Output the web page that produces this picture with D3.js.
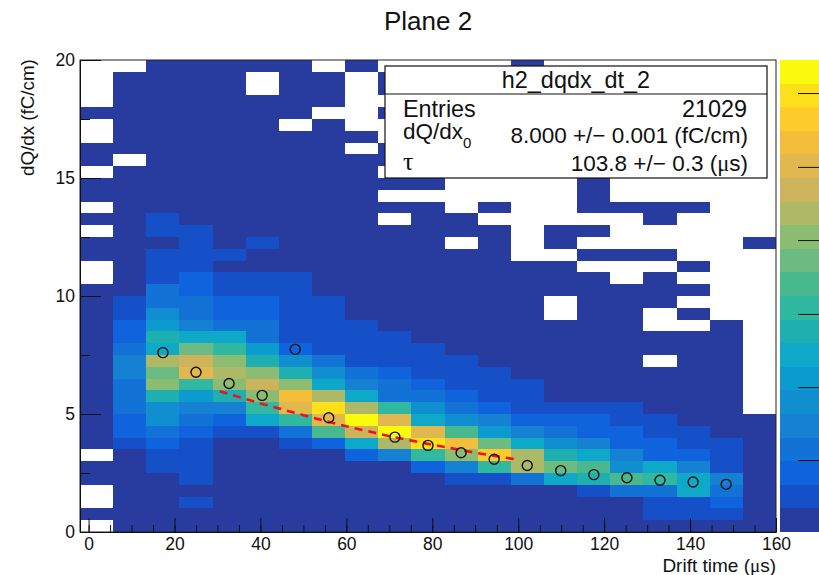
<!DOCTYPE html>
<html>
<head>
<meta charset="utf-8">
<script src="https://d3js.org/d3.v7.min.js"></script>
<style>
  html, body { margin: 0; padding: 0; background: #fff; overflow: hidden; }
  text { font-family: "Liberation Sans", Arial, sans-serif; fill: #111; }
  .sym { font-family: "Liberation Serif", serif; }
</style>
</head>
<body>
<div id="chart"></div>
<script>
// bins of the 2d histogram
const xEdgeMin = -2, xEdgeMax = 160, nBinsX = 21;
const yEdgeMin = 0, yEdgeMax = 20, nBinsY = 40;

// colour level of each bin, first row is the top one. e = empty bin
const e = null;
const binLevels = [
  [e,e,0,0,0,0,0,e,0,e,e,e,e,0,e,e,e,e,e,e,e],
  [e,0,0,0,0,e,0,0,e,0,e,e,e,e,e,e,e,e,e,e,e],
  [e,0,0,0,0,e,0,0,e,0,e,e,e,e,e,e,e,e,e,e,e],
  [e,0,0,0,0,0,0,0,e,e,e,e,e,e,e,e,e,e,e,e,e],
  [0,0,0,0,0,0,0,e,e,0,e,e,e,e,e,e,e,e,e,e,e],
  [e,0,0,0,0,0,e,0,e,e,e,e,e,e,e,e,e,e,e,e,e],
  [e,0,0,0,0,0,0,0,0,e,e,e,e,e,e,e,e,e,e,e,e],
  [0,0,0,0,0,0,0,0,e,0,e,e,e,e,e,e,e,e,e,e,e],
  [0,e,0,0,0,0,0,0,0,0,e,e,e,e,e,e,e,e,e,e,e],
  [e,0,0,0,0,0,0,0,0,e,e,e,e,e,e,e,e,e,e,e,e],
  [0,0,0,0,0,0,0,0,0,0,0,e,e,e,e,0,e,e,e,e,e],
  [0,0,0,0,0,0,0,0,0,e,e,e,e,e,e,0,e,e,e,e,e],
  [e,0,0,0,0,0,0,0,0,0,0,e,0,e,e,0,0,0,0,e,e],
  [0,0,1,0,0,0,0,0,0,e,0,0,e,e,e,e,e,0,e,e,e],
  [e,0,1,1,0,0,0,0,0,0,0,0,0,e,0,0,e,e,e,e,e],
  [0,0,0,1,0,1,0,0,0,0,0,e,0,e,0,e,e,e,e,e,0],
  [0,0,1,1,1,0,0,0,0,0,0,0,0,e,e,0,0,0,e,e,e],
  [e,0,1,1,0,0,0,0,0,0,0,0,0,0,0,e,e,e,0,e,e],
  [e,0,1,2,1,1,1,0,0,0,0,0,0,0,0,0,e,0,e,e,e],
  [0,0,3,2,1,1,1,0,0,0,0,0,0,0,0,0,0,0,0,e,e],
  [0,1,3,3,2,2,1,1,0,0,0,0,0,0,e,0,0,0,e,e,e],
  [0,1,5,3,2,2,1,1,0,0,0,0,0,0,e,0,0,e,0,e,e],
  [0,2,6,4,3,3,1,1,1,0,0,0,0,0,0,0,0,e,e,0,e],
  [0,2,8,7,7,3,1,1,1,1,0,0,0,0,0,0,0,0,0,0,e],
  [0,3,7,11,9,6,2,1,1,1,1,0,0,0,0,0,0,0,0,0,e],
  [0,4,13,14,12,8,5,3,1,1,1,1,0,0,0,0,0,e,0,0,e],
  [0,4,11,15,13,12,8,5,3,2,1,1,1,0,0,0,0,0,0,0,e],
  [0,3,12,9,12,14,12,7,4,3,2,1,1,1,0,0,0,0,0,0,e],
  [0,3,8,6,8,12,16,13,7,3,3,2,1,1,0,0,0,0,0,0,e],
  [0,3,5,4,4,9,15,18,13,9,5,3,2,1,1,1,1,0,0,0,e],
  [0,2,5,3,2,7,9,15,19,15,7,5,4,2,2,2,1,1,0,0,0],
  [0,2,3,2,1,1,3,10,14,19,15,10,6,4,3,2,2,1,1,0,0],
  [0,1,2,1,0,0,1,2,7,13,18,16,11,7,5,4,2,2,1,1,0],
  [e,0,1,1,0,0,0,0,2,4,9,12,17,13,8,7,4,2,2,1,0],
  [0,0,1,1,0,0,0,0,0,0,2,4,9,13,11,10,5,7,4,1,0],
  [0,0,0,1,0,0,0,0,0,0,0,1,1,3,7,8,10,9,7,4,0],
  [e,0,0,0,0,0,0,0,0,0,0,0,0,0,0,1,3,3,7,3,0],
  [e,0,0,1,0,0,0,0,0,0,0,0,0,0,0,0,0,1,1,2,0],
  [0,0,0,0,0,0,0,0,0,0,0,0,0,0,0,0,0,1,1,1,0],
  [e,0,0,0,0,0,0,0,0,0,0,0,0,0,0,0,0,0,0,0,0]
];

// palette, bottom to top
const paletteColors = [
  "#283b9f","#1650c8","#0f63dc","#1272d6","#1680d2","#108fd0","#0c9bce","#0ea8c8","#1eb0b0","#30b8a0",
  "#48b88e","#6cbb82","#8cbc72","#aeb968","#cdb45c","#e1b84f","#f3bf3a","#fdcb2a","#fde019","#fafa0c"
];
const paletteTicks = [3.05, 6.14, 9.24, 12.37, 15.47, 18.6];

// mean dQ/dx per drift time bin
const meanTime = [17.3, 25, 32.7, 40.4, 48.1, 55.9, 71.3, 79, 86.7, 94.4, 102.1, 109.9, 117.6, 125.3, 133, 140.7, 148.4];
const meanCharge = [7.6, 6.77, 6.29, 5.79, 7.74, 4.84, 4.02, 3.67, 3.36, 3.08, 2.82, 2.6, 2.43, 2.3, 2.19, 2.12, 2.02];

// fit curve
const fitTime = [30.5, 40, 50, 60, 70, 80, 90, 99.7];
const fitCharge = [5.96, 5.45, 4.95, 4.48, 4.06, 3.70, 3.36, 3.07];

const xMajorTicks = [0, 20, 40, 60, 80, 100, 120, 140, 160];
const xMinorTicks = d3.range(0, 161, 5);
const yMajorTicks = [0, 5, 10, 15, 20];
const yMinorTicks = [2.5, 7.5, 12.5, 17.5];

const width = 819, height = 575;
const margin = {top: 60, right: 43, bottom: 43, left: 80};

const svg = d3.select("#chart").append("svg")
    .attr("width", width)
    .attr("height", height);

const x = d3.scaleLinear().domain([xEdgeMin, xEdgeMax]).range([margin.left, width - margin.right]);
const y = d3.scaleLinear().domain([yEdgeMin, yEdgeMax]).range([height - margin.bottom, margin.top]);

const binW = (xEdgeMax - xEdgeMin) / nBinsX;
const binH = (yEdgeMax - yEdgeMin) / nBinsY;

// flatten the table into cells
const cells = [];
binLevels.forEach((row, r) => {
    row.forEach((level, c) => {
        if (level !== null) cells.push({c: c, r: nBinsY - 1 - r, level: level});
    });
});

svg.append("g").selectAll("rect")
    .data(cells)
    .join("rect")
    .attr("x", d => x(xEdgeMin + d.c * binW))
    .attr("y", d => y(yEdgeMin + (d.r + 1) * binH))
    .attr("width", x(xEdgeMin + binW) - x(xEdgeMin))
    .attr("height", y(yEdgeMin) - y(yEdgeMin + binH))
    .attr("fill", d => paletteColors[d.level])
    .attr("shape-rendering", "crispEdges");

// frame
svg.append("rect")
    .attr("x", x.range()[0])
    .attr("y", y.range()[1])
    .attr("width", x.range()[1] - x.range()[0])
    .attr("height", y.range()[0] - y.range()[1])
    .attr("fill", "none")
    .attr("stroke", "#222")
    .attr("stroke-width", 1);

// axes, ticks point into the plot like ROOT does
const xAxisMinor = d3.axisBottom(x).tickValues(xMinorTicks).tickSizeInner(-7).tickSizeOuter(0).tickFormat("");
const xAxisMajor = d3.axisBottom(x).tickValues(xMajorTicks).tickSizeInner(-14).tickSizeOuter(0).tickPadding(6).tickFormat(d3.format("d"));
const yAxisMinor = d3.axisLeft(y).tickValues(yMinorTicks).tickSizeInner(-10).tickSizeOuter(0).tickFormat("");
const yAxisMajor = d3.axisLeft(y).tickValues(yMajorTicks).tickSizeInner(-21).tickSizeOuter(0).tickPadding(5).tickFormat(d3.format("d"));

const bottom = height - margin.bottom;
svg.append("g").attr("transform", `translate(0,${bottom})`).call(xAxisMinor);
svg.append("g").attr("class", "lab").attr("transform", `translate(0,${bottom})`).call(xAxisMajor);
svg.append("g").attr("transform", `translate(${margin.left},0)`).call(yAxisMinor);
svg.append("g").attr("class", "lab").attr("transform", `translate(${margin.left},0)`).call(yAxisMajor);

svg.selectAll(".lab text")
    .attr("font-size", 17.5)
    .style("font-family", '"Liberation Sans", Arial, sans-serif')
    .style("fill", "#111");
svg.selectAll(".tick line").attr("stroke", "#111");
svg.selectAll(".domain").attr("stroke", "#111");

// fit
const fitLine = d3.line().x((d, i) => x(fitTime[i])).y(d => y(d));
svg.append("path")
    .attr("d", fitLine(fitCharge))
    .attr("fill", "none")
    .attr("stroke", "#f2101c")
    .attr("stroke-width", 2.6)
    .attr("stroke-dasharray", "8,6");

// means
svg.append("g").selectAll("circle")
    .data(meanCharge)
    .join("circle")
    .attr("cx", (d, i) => x(meanTime[i]))
    .attr("cy", d => y(d))
    .attr("r", 5)
    .attr("fill", "none")
    .attr("stroke", "#111")
    .attr("stroke-width", 1.4);

// palette
const paletteLevel = d3.scaleLinear().domain([0, paletteColors.length]).range([height - margin.bottom, margin.top]);
svg.append("g").selectAll("rect")
    .data(paletteColors)
    .join("rect")
    .attr("x", 780)
    .attr("y", (d, i) => paletteLevel(i + 1))
    .attr("width", 39)
    .attr("height", paletteLevel(0) - paletteLevel(1))
    .attr("fill", d => d)
    .attr("shape-rendering", "crispEdges");

const paletteAxis = d3.axisLeft(paletteLevel).tickValues(paletteTicks).tickSizeInner(21).tickSizeOuter(0).tickFormat("");
svg.append("g").attr("transform", "translate(819,0)").call(paletteAxis)
    .call(g => g.select(".domain").attr("stroke", "#777"))
    .call(g => g.selectAll(".tick line").attr("x2", -21).attr("stroke", "#111"));

// titles
svg.append("text").attr("x", 428).attr("y", 30)
    .attr("text-anchor", "middle").attr("font-size", 26).text("Plane 2");

const xTitle = svg.append("text").attr("x", 776).attr("y", 571.5)
    .attr("text-anchor", "end").attr("font-size", 19);
xTitle.append("tspan").text("Drift time (");
xTitle.append("tspan").attr("class", "sym").text("μ");
xTitle.append("tspan").text("s)");

svg.append("text")
    .attr("transform", "translate(34,176) rotate(-90)")
    .attr("font-size", 18.8)
    .text("dQ/dx (fC/cm)");

// stats box
const stats = svg.append("g");
stats.append("rect")
    .attr("x", 385).attr("y", 66).attr("width", 382).attr("height", 112)
    .attr("fill", "#fff").attr("stroke", "#111").attr("stroke-width", 1.2);
stats.append("line")
    .attr("x1", 385).attr("x2", 767).attr("y1", 94).attr("y2", 94)
    .attr("stroke", "#111").attr("stroke-width", 1.2);
stats.append("text").attr("x", 576).attr("y", 87.5)
    .attr("text-anchor", "middle").attr("font-size", 23.4).text("h2_dqdx_dt_2");

stats.append("text").attr("x", 403).attr("y", 117).attr("font-size", 23.4).text("Entries");
stats.append("text").attr("x", 747).attr("y", 117).attr("text-anchor", "end").attr("font-size", 23.4).text("21029");

stats.append("text").attr("x", 403).attr("y", 139).attr("font-size", 22.5).text("dQ/dx");
stats.append("text").attr("x", 463).attr("y", 148).attr("font-size", 15).text("0");
stats.append("text").attr("x", 748).attr("y", 143).attr("text-anchor", "end").attr("font-size", 22.5).text("8.000 +/− 0.001 (fC/cm)");

stats.append("text").attr("class", "sym").attr("x", 403).attr("y", 170).attr("font-size", 26).text("τ");
const tauValue = stats.append("text").attr("x", 748).attr("y", 171).attr("text-anchor", "end").attr("font-size", 22.5);
tauValue.append("tspan").text("103.8 +/− 0.3 (");
tauValue.append("tspan").attr("class", "sym").text("μ");
tauValue.append("tspan").text("s)");
</script>
</body>
</html>
